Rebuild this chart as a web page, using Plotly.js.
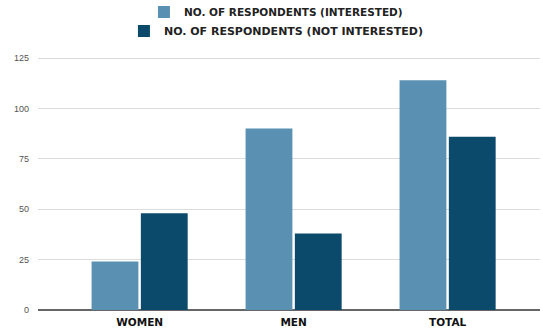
<!DOCTYPE html>
<html><head><meta charset="utf-8">
<script src="https://cdn.plot.ly/plotly-3.0.1.min.js"></script>
<style>html,body{margin:0;padding:0;background:#fff}#c{width:543px;height:333px}</style>
</head><body><div id="c"></div>
<script>
const categories = ["WOMEN", "MEN", "TOTAL"];
const interested = [24, 90, 114];
const notInterested = [48, 38, 86];
const seriesNames = ["NO. OF RESPONDENTS (INTERESTED)", "NO. OF RESPONDENTS (NOT INTERESTED)"];
const yTicks = [0, 25, 50, 75, 100, 125];

const data = [
  {type: "bar", x: categories, y: interested, name: "<b>" + seriesNames[0] + "</b>",
   marker: {color: "#5a90b2"}, legend: "legend"},
  {type: "bar", x: categories, y: notInterested, name: "<b>" + seriesNames[1] + "</b>",
   marker: {color: "#0c4a6b"}, legend: "legend2"}
];
const layout = {
  width: 543, height: 333,
  margin: {l: 38, r: 3, t: 57, b: 23},
  paper_bgcolor: "#fff", plot_bgcolor: "#fff",
  barmode: "group", bargap: 0.36, bargroupgap: 0.05,
  showlegend: true,
  legend: {x: 0.474, y: 0.964, xanchor: "center", yanchor: "middle", xref: "paper", yref: "container",
    font: {family: "DejaVu Sans, sans-serif", size: 10.5, color: "#222"}, itemwidth: 10, bgcolor: "rgba(0,0,0,0)"},
  legend2: {x: 0.474, y: 0.907, xanchor: "center", yanchor: "middle", xref: "paper", yref: "container",
    font: {family: "DejaVu Sans, sans-serif", size: 11, color: "#222"}, itemwidth: 10, bgcolor: "rgba(0,0,0,0)"},
  xaxis: {type: "category", range: [-0.66, 2.6], showgrid: false, ticks: "",
    tickvals: categories, ticktext: categories.map(c => "<b>" + c + "</b>"),
    tickfont: {family: "DejaVu Sans, sans-serif", size: 10.5, color: "#111"},
    ticklabelstandoff: 4, showline: false, fixedrange: true},
  yaxis: {range: [0, 125.5], tickvals: yTicks, ticktext: yTicks.map(String),
    gridcolor: "#dcdcdc", gridwidth: 1, zeroline: true, zerolinecolor: "#666", zerolinewidth: 1.2,
    tickfont: {family: "Liberation Sans, Arial, sans-serif", size: 9, color: "#555"},
    ticks: "", ticklabelstandoff: 8, showline: false}
};
Plotly.newPlot("c", data, layout, {displayModeBar: false, staticPlot: true});
</script></body></html>
